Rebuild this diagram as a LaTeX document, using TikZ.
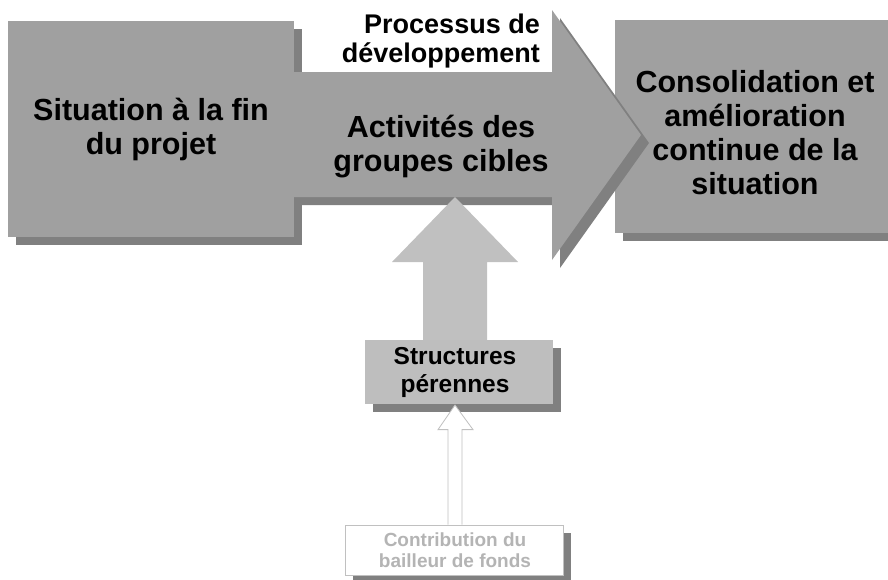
\documentclass[tikz,border=0pt]{standalone}
\usepackage{fontspec}
\setmainfont{Liberation Sans}
\usetikzlibrary{calc}
\definecolor{boxgray}{HTML}{A0A0A0}
\definecolor{shadowgray}{HTML}{808080}
\definecolor{upgray}{HTML}{C0C0C0}
\definecolor{spgray}{HTML}{BEBEBE}
\definecolor{paletext}{HTML}{B4B4B4}
\begin{document}
\begin{tikzpicture}[x=1pt,y=-1pt,
  bigtext/.style={font=\bfseries\fontsize{30.5}{34}\selectfont, align=center, text=black, inner sep=0pt},
  midtext/.style={font=\bfseries\fontsize{27}{29}\selectfont, text=black, inner sep=0pt},
  smalltext/.style={font=\bfseries\fontsize{24.5}{28}\selectfont, align=center, text=black, inner sep=0pt},
  tinytext/.style={font=\bfseries\fontsize{19}{21}\selectfont, align=center, text=paletext, inner sep=0pt},
  gbox/.style={fill=boxgray, draw=none, inner sep=0pt, outer sep=0pt},
  shade8/.style={fill=shadowgray, draw=none}
]
\useasboundingbox (0,0) rectangle (888,579);
% right box
\fill[shade8] (623,28) rectangle (896,241);
\node[gbox, minimum width=281pt, minimum height=213pt] (rbox) at (755.5,126.5) {};
% left box shadow
\fill[shade8] (16,29) rectangle (302,245);
% big process arrow
\coordinate (bodyL) at (200,134.5);
\coordinate (tip) at (641,135);
\fill[shade8] ($(bodyL)+(8,-54.5)$) -- (560,80) -- (560,18) -- ($(tip)+(8,8)$) -- (560,268) -- (560,205) -- ($(bodyL)+(8,70.5)$) -- cycle;
\fill[boxgray] ($(bodyL)+(0,-62.5)$) -- (552,72) -- (552,10) -- (tip) -- (552,260) -- (552,197) -- ($(bodyL)+(0,62.5)$) -- cycle;
\coordinate (bodybottom) at (455,197);
% left box
\node[gbox, minimum width=286pt, minimum height=216pt] (lbox) at (151,129) {};
\node[bigtext] (ltext) at (151,129.5) {Situation à la fin\\du projet};
\node[bigtext] (atext) at (441,147) {Activités des\\groupes cibles};
\node[midtext, align=right, anchor=east] (ptext) at (540,41) {Processus de\\développement};
\node[bigtext] (rtext) at (755,133) {Consolidation et\\amélioration\\continue de la\\situation};
% structures box
\fill[shade8] (373,348) rectangle (561,412);
\node[fill=spgray, draw=none, minimum width=188pt, minimum height=64pt, inner sep=0pt, outer sep=0pt] (sp) at (459,372) {};
\node[smalltext] (sptext) at (455,372) {Structures\\pérennes};
% up arrow from structures to the process
\fill[upgray] ($(sp.north)+(-36,0)$) -- ($(sp.north)+(-36,-78)$) -- ($(sp.north)+(-67,-78)$) -- (bodybottom) -- ($(sp.north)+(59,-78)$) -- ($(sp.north)+(28,-78)$) -- ($(sp.north)+(28,0)$) -- cycle;
% contribution box
\fill[shade8] (353,533) rectangle (571,583);
\node[fill=white, draw=upgray, line width=0.8pt, minimum width=218pt, minimum height=50pt, inner sep=0pt] (cb) at (454,550) {};
\node[tinytext] (cbtext) at (455,550) {Contribution du\\bailleur de fonds};
% hollow arrow
\coordinate (htip) at (455,405);
\draw[upgray, fill=white, line width=0.8pt] ($(cb.north)+(-6,0)$) -- ($(cb.north)+(-6,-95)$) -- ($(cb.north)+(-16,-95)$) -- (htip) -- ($(cb.north)+(19,-95)$) -- ($(cb.north)+(8,-95)$) -- ($(cb.north)+(8,0)$);
\end{tikzpicture}
\end{document}
